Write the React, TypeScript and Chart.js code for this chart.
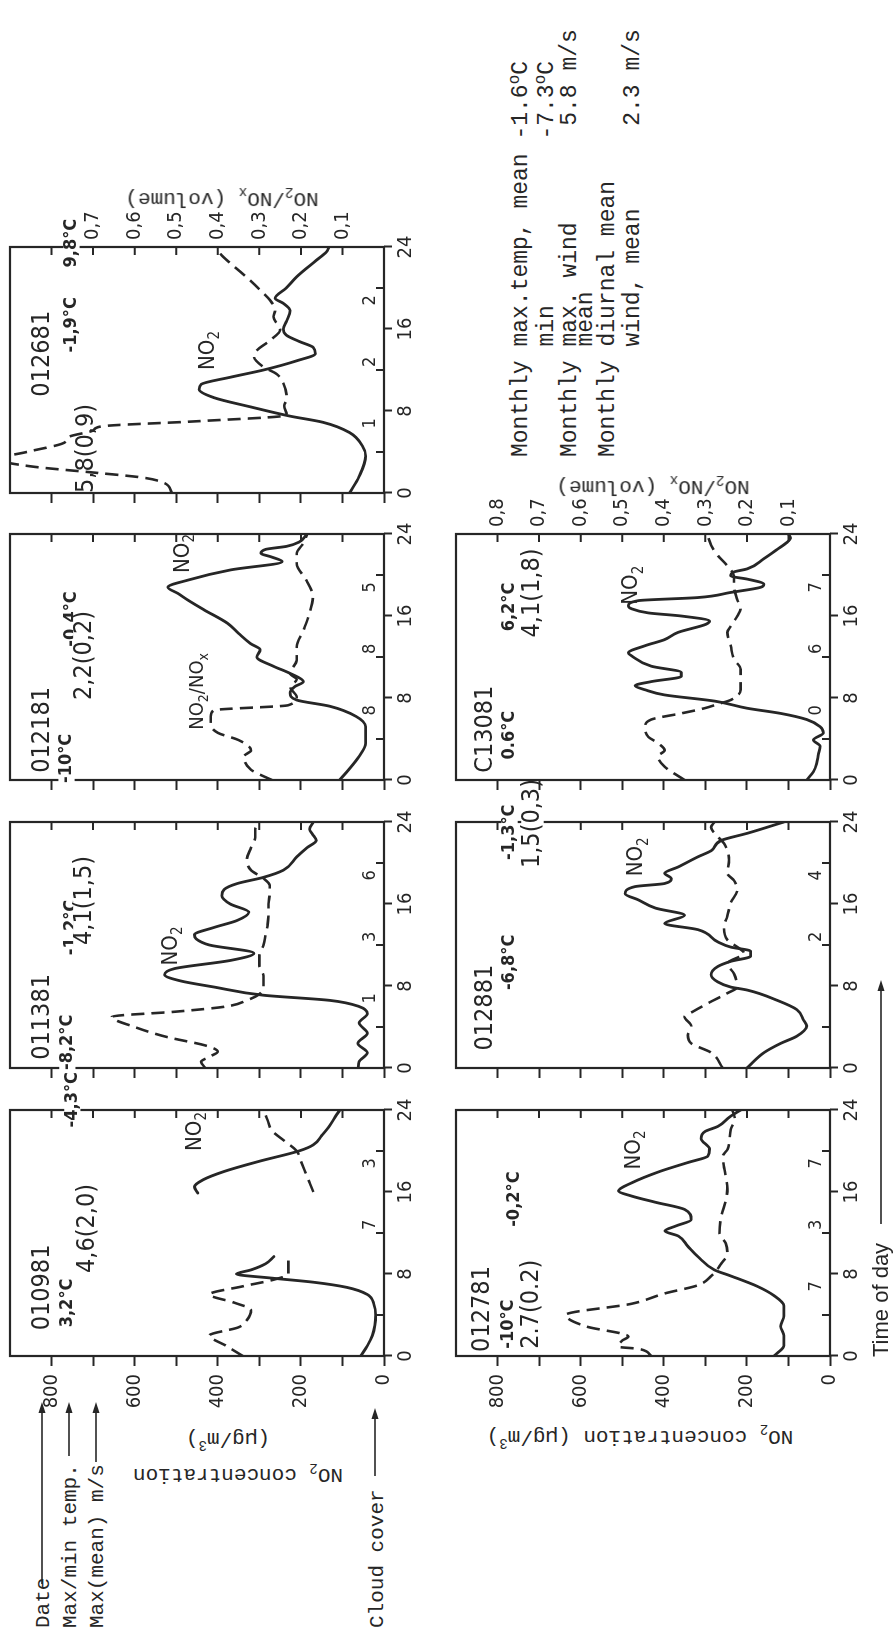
import React, { useEffect, useRef } from 'react';
import { Chart, registerables } from 'chart.js';

Chart.register(...registerables);

type Pt = [number, number | null];

// ---------------- data ----------------
const HOURS_MAJOR = [0, 8, 16, 24];
const HOURS_MINOR = [4, 12, 20];
const CLOUD_HOURS = [7, 13, 19];
const CONC_TICKS = [0, 100, 200, 300, 400, 500, 600, 700, 800];
const CONC_LABELS = [0, 200, 400, 600, 800];
const RATIO_TICKS = [0.1, 0.2, 0.3, 0.4, 0.5, 0.6, 0.7, 0.8];
const RATIO_LABELS_A = [0.1, 0.2, 0.3, 0.4, 0.5, 0.6, 0.7];
const RATIO_LABELS_B = [0.1, 0.2, 0.3, 0.4, 0.5, 0.6, 0.7, 0.8];

const dates = ['010981', '011381', '012181', '012681', '012781', '012881', 'C13081'];
const tempsLeft = ['3,2°C', '-8,2°C', '-10°C', '-1,9°C', '-10°C', '-6,8°C', '0.6°C'];
const tempsRight = ['-4,3°C', '-1,2°C', '-0,4°C', '9,8°C', '-0,2°C', '-1,3°C', '6,2°C'];
const winds = ['4,6(2,0)', '4,1(1,5)', '2,2(0,2)', '5,8(0,9)', '2.7(0.2)', '1,5(0,3)', '4,1(1,8)'];
const cloud07 = ['', '1', '8', '1', '7', '', '0'];
const cloud13 = ['7', '3', '8', '2', '3', '2', '6'];
const cloud19 = ['3', '6', '5', '2', '7', '4', '7'];

const no2_010981: Pt[] = [[0, 56], [1, 40], [2, 28], [3, 22], [4, 20], [5, 24], [6, 40], [6.7, 90], [7.2, 170], [7.6, 270], [8, 355], [8.4, 320], [9, 285], [9.7, 265], [12, null], [15.9, 448], [16.5, 456], [17.2, 435], [18, 385], [19, 300], [20, 205], [20.6, 170], [21.5, 150], [22.5, 130], [23.3, 118], [24, 106]];
const ratio_010981: Pt[] = [[0, 0.34], [1, 0.38], [2, 0.42], [2.8, 0.35], [3.5, 0.33], [4.5, 0.32], [5.2, 0.36], [6, 0.42], [6.8, 0.34], [7.4, 0.27], [8, 0.23], [9, 0.23], [9.7, 0.23], [12, null], [16, 0.17], [17, 0.18], [18, 0.19], [19, 0.2], [20, 0.21], [21, 0.24], [22, 0.27], [23, 0.28], [24, 0.29]];

const no2_011381: Pt[] = [[0, 62], [0.6, 60], [1.5, 40], [2.4, 63], [3.4, 40], [4.4, 60], [5.3, 40], [6, 60], [6.6, 131], [7.1, 290], [7.9, 409], [8.5, 490], [9.1, 528], [9.7, 504], [10.5, 369], [11.2, 313], [12, 420], [12.6, 452], [13, 456], [13.7, 410], [14.4, 353], [15.2, 325], [16, 370], [16.8, 390], [17.4, 385], [18, 353], [18.6, 290], [19.3, 242], [20.6, 210], [21.5, 185], [22.2, 163], [22.8, 172], [23.3, 179], [24, 170]];
const ratio_011381: Pt[] = [[0, 0.43], [0.6, 0.44], [1.1, 0.42], [1.6, 0.4], [2.2, 0.43], [3, 0.52], [4, 0.6], [5, 0.655], [5.5, 0.5], [6, 0.38], [6.6, 0.33], [7.2, 0.3], [8, 0.29], [9, 0.29], [10, 0.3], [11, 0.3], [12, 0.29], [13, 0.285], [14, 0.28], [15, 0.278], [16, 0.278], [17, 0.275], [17.8, 0.275], [18.5, 0.29], [19.3, 0.32], [20.3, 0.33], [21.5, 0.32], [22.5, 0.31], [23.3, 0.31], [24, 0.3]];

const no2_012181: Pt[] = [[0, 107], [1, 85], [2.3, 60], [3.6, 44], [5.2, 44], [6.2, 67], [7.2, 131], [7.8, 210], [8.5, 226], [9.1, 215], [9.6, 194], [10.4, 226], [11.1, 266], [12, 306], [12.7, 298], [13.3, 321], [14.3, 350], [15.3, 377], [16.6, 433], [17.5, 470], [18.2, 496], [18.8, 520], [19.5, 472], [20.5, 369], [21.3, 245], [21.8, 274], [22.1, 296], [22.5, 285], [22.8, 234], [23.2, 205], [24, 185]];
const ratio_012181: Pt[] = [[0, 0.27], [1, 0.32], [2.3, 0.337], [2.9, 0.32], [3.9, 0.35], [4.6, 0.4], [5.5, 0.417], [6.2, 0.417], [6.8, 0.41], [7.3, 0.23], [8.1, 0.21], [9.1, 0.226], [9.8, 0.21], [10.4, 0.226], [11.7, 0.21], [13, 0.21], [14.6, 0.194], [16.3, 0.179], [17.9, 0.171], [19.5, 0.187], [21.1, 0.21], [22.1, 0.21], [23.1, 0.194], [24, 0.185]];

const no2_012681: Pt[] = [[0, 83], [1.6, 60], [3.6, 44], [4.6, 52], [5.9, 83], [6.9, 147], [7.5, 226], [8.4, 321], [9.3, 409], [10.1, 445], [10.6, 440], [11.3, 369], [12, 290], [12.9, 210], [13.6, 165], [14.2, 170], [14.8, 205], [15.4, 235], [16, 242], [16.8, 234], [17.8, 226], [18.5, 242], [19, 262], [20, 235], [21.1, 210], [22.7, 163], [23.5, 139], [24, 132]];
const ratio_012681: Pt[] = [[0, 0.51], [1, 0.53], [1.5, 0.58], [2, 0.7], [2.6, 0.85], [3.3, 0.93], [4, 0.86], [4.9, 0.77], [5.5, 0.757], [6.1, 0.7], [6.5, 0.68], [7, 0.45], [7.6, 0.234], [8.5, 0.24], [9.2, 0.234], [10.7, 0.242], [11.6, 0.258], [12.3, 0.29], [13.3, 0.313], [13.9, 0.306], [14.9, 0.274], [15.9, 0.25], [17.2, 0.266], [17.8, 0.262], [18.8, 0.274], [19.8, 0.298], [20.7, 0.321], [22.4, 0.369], [23.3, 0.393], [24, 0.4]];

const no2_012781: Pt[] = [[0, 135], [1, 111], [2, 111], [2.9, 119], [3.9, 111], [4.9, 111], [5.9, 135], [6.8, 175], [7.8, 238], [8.4, 278], [9.7, 318], [10.7, 342], [11.7, 365], [12.2, 397], [12.7, 370], [13.3, 334], [14.3, 350], [15, 420], [15.6, 477], [16.1, 509], [16.9, 477], [18, 410], [18.9, 340], [19.5, 294], [20.2, 290], [21.2, 310], [21.9, 301], [22.4, 270], [23.4, 239], [24, 215]];
const ratio_012781: Pt[] = [[0, 0.43], [0.7, 0.461], [0.9, 0.509], [1.5, 0.5], [1.9, 0.485], [2.9, 0.588], [4, 0.636], [5.1, 0.477], [6.1, 0.398], [6.9, 0.318], [7.8, 0.286], [9, 0.262], [10, 0.247], [11, 0.251], [12, 0.266], [13.6, 0.262], [15.3, 0.25], [16.3, 0.247], [18.2, 0.254], [19.5, 0.258], [20.2, 0.246], [22.1, 0.239], [23.1, 0.229], [24, 0.235]];

const no2_012881: Pt[] = [[0, 200], [1.5, 159], [2.4, 119], [3.1, 80], [4.1, 56], [4.7, 64], [5.7, 80], [6.6, 127], [7.6, 199], [7.9, 239], [8.4, 270], [9.1, 286], [9.9, 270], [10.4, 239], [10.9, 191], [11.4, 191], [11.8, 239], [12.3, 270], [13.5, 318], [14.1, 398], [14.9, 350], [15.6, 420], [16.4, 461], [17, 493], [17.7, 469], [18, 398], [18.5, 382], [19, 398], [19.6, 366], [20.6, 318], [21.2, 286], [22.2, 262], [22.9, 199], [24, 111]];
const ratio_012881: Pt[] = [[0, 0.258], [1.5, 0.286], [2.4, 0.334], [3.2, 0.342], [4.1, 0.334], [5, 0.35], [5.5, 0.33], [6.4, 0.29], [7.3, 0.247], [7.9, 0.223], [9.2, 0.231], [10.2, 0.247], [11.2, 0.207], [11.8, 0.223], [12.5, 0.247], [13.8, 0.255], [14.8, 0.247], [16.1, 0.239], [17.4, 0.223], [18.3, 0.231], [19, 0.247], [20.3, 0.243], [21.9, 0.255], [22.9, 0.278], [23.5, 0.286], [24, 0.278]];

const no2_013081: Pt[] = [[0, 56], [0.8, 40], [1.6, 32], [2.5, 28], [3.3, 24], [3.9, 40], [4.6, 16], [5.2, 24], [5.9, 56], [6.5, 119], [7, 199], [7.7, 278], [8.3, 398], [8.8, 445], [9.2, 469], [9.6, 430], [10.1, 358], [10.5, 358], [11.1, 430], [12.1, 477], [12.4, 485], [13.1, 445], [13.7, 398], [14.4, 366], [15.2, 298], [15.5, 290], [16, 358], [16.3, 437], [16.7, 477], [17, 485], [17.5, 461], [17.8, 318], [18.3, 239], [18.8, 167], [19.1, 159], [19.6, 199], [19.9, 239], [20.3, 231], [20.6, 199], [21.6, 159], [22.5, 127], [23.2, 103], [23.6, 95], [24, 100]];
const ratio_013081: Pt[] = [[0, 0.35], [1.3, 0.398], [2.3, 0.414], [2.9, 0.398], [3.6, 0.414], [4.2, 0.437], [5.2, 0.445], [5.9, 0.43], [6.5, 0.358], [7, 0.302], [7.4, 0.27], [7.8, 0.239], [8.8, 0.215], [9.8, 0.215], [10.8, 0.215], [11.8, 0.231], [13.1, 0.239], [14.4, 0.247], [15, 0.239], [16, 0.223], [16.7, 0.215], [17.6, 0.223], [18.9, 0.231], [19.9, 0.231], [20.9, 0.247], [21.9, 0.27], [22.9, 0.286], [24, 0.296]];

// ---------------- styling / layout ----------------
const INK = '#262626';
const NARROW = "'Liberation Sans Narrow','DejaVu Sans Condensed','Liberation Sans',sans-serif";
const MONO = "'Liberation Mono','DejaVu Sans Mono',monospace";
const SANS = "'Liberation Sans','DejaVu Sans',sans-serif";

const PANEL_W = 246;
const PANEL_H = 378;
const M_L = 64, M_R = 64, M_T = 16, M_B = 44;
const COL_X = [280, 568, 856, 1143];
const ROW_Y = [10, 456];

type Spot = [number, number]; // [hour, concentration] anchor of a label
interface PanelSpec {
  i: number; row: number; col: number;
  no2: Pt[]; ratio: Pt[];
  leftLabels: boolean; rightLabels: number[] | null;
  date: Spot; tL: Spot; tR: Spot; wind: Spot; no2Lab: Spot; ratioLab?: Spot; windBg: boolean;
}

const PANELS: PanelSpec[] = [
  { i: 0, row: 0, col: 0, no2: no2_010981, ratio: ratio_010981, leftLabels: true, rightLabels: null, date: [2.5, 822], tL: [2.8, 762], tR: [22.3, 750], wind: [8.1, 714], no2Lab: [20.0, 455], windBg: true },
  { i: 1, row: 0, col: 1, no2: no2_011381, ratio: ratio_011381, leftLabels: false, rightLabels: null, date: [0.8, 822], tL: [-0.2, 762], tR: [11.0, 752], wind: [12.0, 721], no2Lab: [10.0, 512], windBg: true },
  { i: 2, row: 0, col: 2, no2: no2_012181, ratio: ratio_012181, leftLabels: false, rightLabels: null, date: [0.7, 822], tL: [-0.3, 764], tR: [13.0, 752], wind: [7.8, 721], no2Lab: [20.2, 483], ratioLab: [4.9, 448], windBg: true },
  { i: 3, row: 0, col: 3, no2: no2_012681, ratio: ratio_012681, leftLabels: false, rightLabels: RATIO_LABELS_A, date: [9.4, 822], tL: [13.7, 752], tR: [22.0, 752], wind: [0.0, 717], no2Lab: [12.0, 424], windBg: false },
  { i: 4, row: 1, col: 0, no2: no2_012781, ratio: ratio_012781, leftLabels: true, rightLabels: null, date: [0.4, 836], tL: [0.7, 773], tR: [12.6, 759], wind: [0.7, 719], no2Lab: [18.2, 472], windBg: true },
  { i: 5, row: 1, col: 1, no2: no2_012881, ratio: ratio_012881, leftLabels: false, rightLabels: null, date: [1.7, 830], tL: [7.6, 771], tR: [20.3, 771], wind: [19.5, 716], no2Lab: [18.7, 465], windBg: true },
  { i: 6, row: 1, col: 2, no2: no2_013081, ratio: ratio_013081, leftLabels: false, rightLabels: RATIO_LABELS_B, date: [0.7, 830], tL: [2.0, 771], tR: [14.5, 771], wind: [13.9, 716], no2Lab: [17.1, 477], windBg: true },
];

function drawRich(ctx: CanvasRenderingContext2D, text: string, x: number, y: number, size: number, weight: string, align: 'left' | 'center', bg = false) {
  const segs: { s: string; sub: boolean }[] = [];
  for (let k = 0; k < text.length; k++) {
    const c = text[k];
    if (c === '_' && k + 1 < text.length) { segs.push({ s: text[k + 1], sub: true }); k++; }
    else if (segs.length && !segs[segs.length - 1].sub) segs[segs.length - 1].s += c;
    else segs.push({ s: c, sub: false });
  }
  const fontOf = (sub: boolean) => `${weight} ${sub ? Math.round(size * 0.7) : size}px ${NARROW}`;
  let w = 0;
  for (const g of segs) { ctx.font = fontOf(g.sub); w += ctx.measureText(g.s).width; }
  let cx = align === 'center' ? x - w / 2 : x;
  if (bg) {
    ctx.fillStyle = '#ffffff';
    ctx.fillRect(cx - 2, y - size * 0.45, w + 4, size * 0.9);
  }
  ctx.textBaseline = 'middle';
  ctx.textAlign = 'left';
  ctx.fillStyle = INK;
  for (const g of segs) {
    ctx.font = fontOf(g.sub);
    ctx.fillText(g.s, cx, g.sub ? y + size * 0.32 : y);
    cx += ctx.measureText(g.s).width;
  }
}

const fmtRatio = (v: number) => v.toFixed(1).replace('.', ',');

function Panel({ spec }: { spec: PanelSpec }) {
  const ref = useRef<HTMLCanvasElement>(null);
  const x0 = COL_X[spec.col];
  const y0 = ROW_Y[spec.row];
  const W = M_L + PANEL_W + M_R;
  const H = M_T + PANEL_H + M_B;

  useEffect(() => {
    const canvas = ref.current!;
    const tickFont = { family: NARROW, size: 20 };
    const deco = {
      id: 'deco',
      afterDatasetsDraw(chart: any) {
        const { ctx, chartArea: a, scales } = chart;
        ctx.save();
        ctx.strokeStyle = INK;
        ctx.lineWidth = 2.2;
        ctx.strokeRect(a.left, a.top, a.right - a.left, a.bottom - a.top);
        ctx.beginPath();
        for (const v of RATIO_TICKS) {
          const y = scales.y1.getPixelForValue(v);
          ctx.moveTo(a.right, y); ctx.lineTo(a.right - 8, y);
        }
        for (const t of HOURS_MINOR) {
          const x = scales.x.getPixelForValue(t);
          ctx.moveTo(x, a.bottom); ctx.lineTo(x, a.bottom - 8);
        }
        ctx.lineWidth = 2;
        ctx.stroke();
        const X = (t: number) => scales.x.getPixelForValue(t);
        const Y = (v: number) => scales.y.getPixelForValue(v);
        const i = spec.i;
        drawRich(ctx, dates[i], X(spec.date[0]), Y(spec.date[1]), 25, 'normal', 'left');
        drawRich(ctx, tempsLeft[i], X(spec.tL[0]), Y(spec.tL[1]), 18, 'bold', 'left', true);
        drawRich(ctx, tempsRight[i], X(spec.tR[0]), Y(spec.tR[1]), 18, 'bold', 'left', true);
        drawRich(ctx, winds[i], X(spec.wind[0]), Y(spec.wind[1]), 25, 'normal', 'left', spec.windBg);
        drawRich(ctx, 'NO_2', X(spec.no2Lab[0]), Y(spec.no2Lab[1]), 22, 'normal', 'left');
        if (spec.ratioLab) drawRich(ctx, 'NO_2/NO_x', X(spec.ratioLab[0]), Y(spec.ratioLab[1]), 20, 'normal', 'left');
        const clouds = [cloud07[i], cloud13[i], cloud19[i]];
        clouds.forEach((c, k) => {
          if (c) drawRich(ctx, c, X(CLOUD_HOURS[k] - 0.2), Y(32), 18, 'normal', 'center');
        });
        ctx.restore();
      },
    };

    const chart = new Chart(canvas, {
      type: 'line',
      data: {
        datasets: [
          {
            data: spec.no2.map(([x, y]) => ({ x, y })) as any,
            borderColor: INK, borderWidth: 2.8, pointRadius: 0,
            cubicInterpolationMode: 'monotone', spanGaps: false, yAxisID: 'y',
            borderCapStyle: 'round', borderJoinStyle: 'round', fill: false,
          },
          {
            data: spec.ratio.map(([x, y]) => ({ x, y })) as any,
            borderColor: INK, borderWidth: 2.6, pointRadius: 0, borderDash: [13, 7],
            cubicInterpolationMode: 'monotone', spanGaps: false, yAxisID: 'y1', fill: false,
          },
        ],
      },
      options: {
        animation: false,
        responsive: false,
        maintainAspectRatio: false,
        devicePixelRatio: 1,
        layout: { padding: { top: M_T, left: 0, right: 0, bottom: 0 } },
        plugins: { legend: { display: false }, tooltip: { enabled: false } },
        scales: {
          x: {
            type: 'linear', min: 0, max: 24,
            afterBuildTicks: (s: any) => { s.ticks = HOURS_MAJOR.map((value) => ({ value })); },
            ticks: { color: INK, font: tickFont, padding: 2, maxRotation: 0, minRotation: 0, autoSkip: false, callback: (v: any) => String(v) },
            grid: { drawOnChartArea: false, drawTicks: true, tickLength: 8, tickWidth: 2, tickColor: INK },
            border: { display: false },
            afterFit: (s: any) => { s.height = M_B; },
          },
          y: {
            type: 'linear', position: 'left', min: 0, max: 900,
            afterBuildTicks: (s: any) => { s.ticks = CONC_TICKS.map((value) => ({ value })); },
            ticks: { color: INK, font: tickFont, padding: 8, callback: (v: any) => (spec.leftLabels && CONC_LABELS.includes(v) ? String(v) : '') },
            grid: { drawOnChartArea: false, drawTicks: true, tickLength: 10, tickWidth: 2, tickColor: INK },
            border: { display: false },
            afterFit: (s: any) => { s.width = M_L; },
          },
          y1: {
            type: 'linear', position: 'right', min: 0, max: 0.9,
            afterBuildTicks: (s: any) => { s.ticks = RATIO_TICKS.map((value) => ({ value })); },
            ticks: { display: !!spec.rightLabels, color: INK, font: tickFont, padding: 7, callback: (v: any) => (spec.rightLabels && spec.rightLabels.includes(v) ? fmtRatio(v) : '') },
            grid: { drawOnChartArea: false, drawTicks: false },
            border: { display: false },
            afterFit: (s: any) => { s.width = M_R; },
          },
        },
      } as any,
      plugins: [deco],
    });
    const ca = chart.chartArea;
    canvas.style.left = `${x0 - ca.left}px`;
    canvas.style.top = `${y0 - ca.top}px`;
    return () => chart.destroy();
  }, []);

  return <canvas ref={ref} width={W} height={H} style={{ position: 'absolute', left: x0 - M_L, top: y0 - M_T }} />;
}

function T({ x, y, size, family, children, rot, center }: any) {
  const style: React.CSSProperties = {
    position: 'absolute', left: x, top: y, whiteSpace: 'pre', fontFamily: family, fontSize: size,
    color: INK, lineHeight: 1, transform: rot ? 'translate(-50%,-50%) rotate(-90deg)' : center ? 'translate(-50%,-50%)' : 'translateY(-50%)',
  };
  return <div style={style}>{children}</div>;
}

const ARROWS = [
  [52, 234, 42], [180, 234, 69], [174, 234, 96], [160, 228, 375], [412, 656, 881],
];

const sub = { fontSize: 14 };

export default function App() {
  useEffect(() => { document.body.style.margin = '0'; }, []);
  return (
    <div style={{ position: 'absolute', left: 0, top: 0, width: 894, height: 1636, overflow: 'hidden', background: '#fff' }}>
      <div style={{ position: 'absolute', left: 0, top: 0, width: 1636, height: 894, transformOrigin: '0 0', transform: 'translateY(1636px) rotate(-90deg)' }}>
        <svg width={1636} height={894} style={{ position: 'absolute', left: 0, top: 0 }}>
          {ARROWS.map(([x1, x2, y], k) => (
            <g key={k}>
              <line x1={x1} y1={y} x2={x2 - 6} y2={y} stroke={INK} strokeWidth={1.6} />
              <polygon points={`${x2},${y} ${x2 - 11},${y - 3.5} ${x2 - 11},${y + 3.5}`} fill={INK} />
            </g>
          ))}
        </svg>
        {PANELS.map((p) => <Panel key={p.i} spec={p} />)}

        <T x={8} y={43} size={21} family={MONO}>Date</T>
        <T x={8} y={70} size={21} family={MONO}>Max/min temp.</T>
        <T x={8} y={97} size={21} family={MONO}>Max(mean) m/s</T>
        <T x={8} y={377} size={21} family={MONO}>Cloud cover</T>

        <T x={163} y={238} size={21} family={MONO} rot>NO<sub style={sub}>2</sub> concentration</T>
        <T x={196} y={228} size={21} family={MONO} rot>(µg/m<sup style={sub}>3</sup>)</T>
        <T x={200} y={640} size={21} family={MONO} rot>NO<sub style={sub}>2</sub> concentration (µg/m<sup style={sub}>3</sup>)</T>

        <T x={1439} y={222} size={21} family={MONO} rot>NO<sub style={sub}>2</sub>/NO<sub style={sub}>x</sub> (volume)</T>
        <T x={1151} y={653} size={21} family={MONO} rot>NO<sub style={sub}>2</sub>/NO<sub style={sub}>x</sub> (volume)</T>

        <T x={279} y={881} size={22} family={SANS}>Time of day</T>

        <T x={1179} y={520} size={23} family={MONO}>{'Monthly max.temp, mean -1.6'}<sup style={{ fontSize: 16 }}>o</sup>C</T>
        <T x={1179} y={546} size={23} family={MONO}>{'        min            -7.3'}<sup style={{ fontSize: 16 }}>o</sup>C</T>
        <T x={1179} y={570} size={23} family={MONO}>{'Monthly max. wind       5.8 m/s'}</T>
        <T x={1179} y={586} size={23} family={MONO}>{'        mean'}</T>
        <T x={1179} y={608} size={23} family={MONO}>{'Monthly diurnal mean'}</T>
        <T x={1179} y={633} size={23} family={MONO}>{'        wind, mean      2.3 m/s'}</T>
      </div>
    </div>
  );
}
